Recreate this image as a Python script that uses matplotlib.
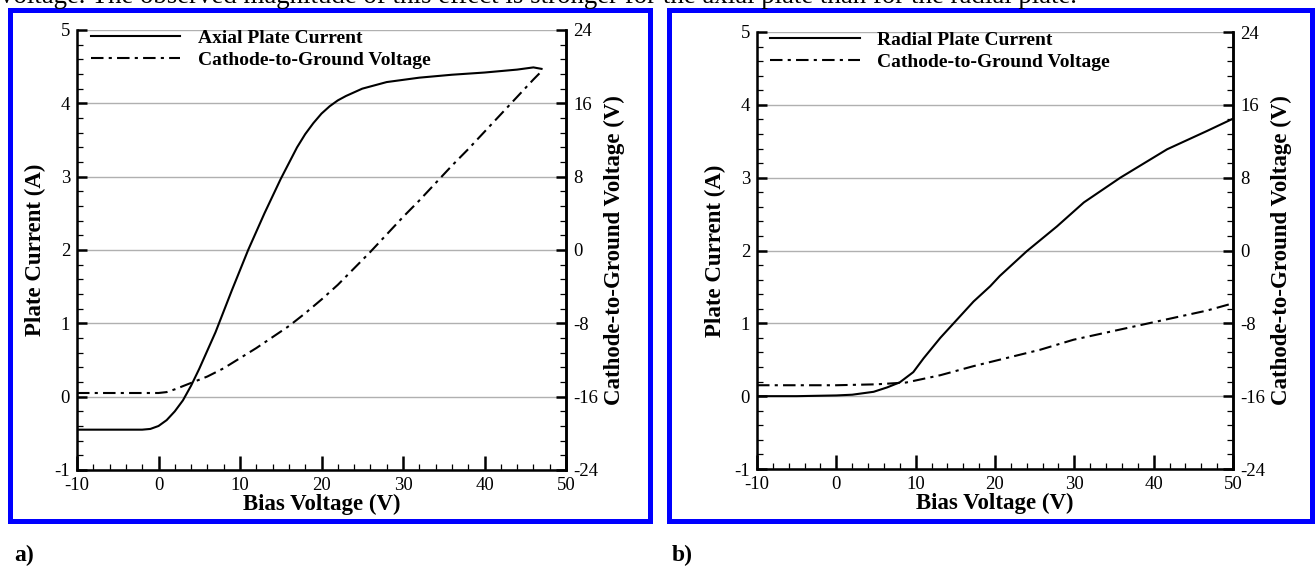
import matplotlib
matplotlib.use("Agg")
from matplotlib import pyplot as plt
from matplotlib.ticker import MultipleLocator
from matplotlib.patches import Rectangle

plt.rcParams['font.family'] = ['Liberation Serif', 'DejaVu Serif']
plt.rcParams['axes.unicode_minus'] = False

# --- panel a) axial plate ---
axial_bias = [-10, -5, -2, -1, 0, 1, 2, 3, 4, 5, 7, 9, 11, 13, 15, 17, 18,
              19, 20, 21, 22, 23, 25, 28, 32, 36, 40, 44, 46, 47]
axial_current = [-0.45, -0.45, -0.45, -0.44, -0.40, -0.32, -0.20, -0.05, 0.15,
                 0.38, 0.88, 1.45, 2.0, 2.5, 2.97, 3.4, 3.58, 3.73, 3.86,
                 3.96, 4.04, 4.1, 4.2, 4.29, 4.35, 4.39, 4.42, 4.46, 4.49,
                 4.47]
axial_vbias = [-10, -5, 0, 1, 2, 4, 6, 8, 10, 12, 14, 16, 18, 20, 22, 24, 26,
               28, 30, 32, 34, 36, 38, 40, 42, 44, 46, 47]
axial_cathode = [-15.6, -15.6, -15.6, -15.5, -15.2, -14.5, -13.8, -12.9,
                 -11.8, -10.7, -9.5, -8.3, -6.9, -5.4, -3.8, -2.0, -0.2, 1.7,
                 3.6, 5.4, 7.3, 9.2, 11.0, 12.9, 14.8, 16.7, 18.6, 19.5]

# --- panel b) radial plate ---
radial_bias = [-10, -5, 0, 2, 4.7, 6.4, 8, 9.7, 11, 13.1, 15.2, 17.3, 19.4,
               20.6, 24, 27.8, 31.2, 35.8, 41.7, 46.7, 50]
radial_current = [0.0, 0.0, 0.01, 0.02, 0.06, 0.12, 0.19, 0.33, 0.52, 0.80,
                  1.05, 1.30, 1.51, 1.65, 1.99, 2.33, 2.66, 3.0, 3.39, 3.64,
                  3.81]
radial_vbias = [-10, -5, 0, 5, 8.8, 13.1, 17.3, 21.5, 25.7, 29.9, 34.1, 38.3,
                42.5, 46.7, 50]
radial_cathode = [-14.8, -14.8, -14.8, -14.7, -14.5, -13.7, -12.7, -11.8,
                  -10.9, -9.8, -9.0, -8.2, -7.4, -6.6, -5.8]

caption = ("voltage. The observed magnitude of this effect is stronger for the "
           "axial plate than for the radial plate.")

W, H = 1315, 567
DASHDOT = (0, (6, 2.5, 1.5, 2.5))


def draw_panel(fig, rect, bias, current, vbias, cathode, label):
    ax = fig.add_axes(rect)
    ax.set_xlim(-10, 50)
    ax.set_ylim(-1, 5)
    ax.xaxis.set_major_locator(MultipleLocator(10))
    ax.xaxis.set_minor_locator(MultipleLocator(2))
    ax.yaxis.set_major_locator(MultipleLocator(1))
    ax.yaxis.set_minor_locator(MultipleLocator(0.2))
    ax.grid(axis='y', which='major', color='#b0b0b0', linewidth=1.0)
    ax.set_axisbelow(True)
    for side in ['left', 'bottom', 'right']:
        ax.spines[side].set_linewidth(1.8)
    ax.spines['top'].set_visible(False)
    ax.tick_params(which='major', direction='in', length=7, width=1.8,
                   labelsize=13.5, pad=5)
    ax.tick_params(axis='x', which='major', length=10, pad=5)
    ax.tick_params(which='minor', direction='in', length=4, width=0.9)

    l1, = ax.plot(bias, current, color='black', linewidth=1.5)

    ax2 = ax.twinx()
    ax2.set_ylim(-24, 24)
    ax2.yaxis.set_major_locator(MultipleLocator(8))
    ax2.yaxis.set_minor_locator(MultipleLocator(1.6))
    ax2.spines['top'].set_visible(False)
    ax2.spines['right'].set_linewidth(1.8)
    ax2.tick_params(which='major', direction='in', length=7, width=1.8,
                    labelsize=13.5, pad=5)
    ax2.tick_params(which='minor', direction='in', length=4, width=0.9)
    l2, = ax2.plot(vbias, cathode, color='black', linewidth=1.5,
                   linestyle=DASHDOT)

    bold = {'fontsize': 16.5, 'fontweight': 'bold'}
    ax.set_xlabel("Bias Voltage (V)", labelpad=0, **bold)
    ax.set_ylabel("Plate Current (A)", labelpad=6, **bold)
    ax2.set_ylabel("Cathode-to-Ground Voltage (V)", labelpad=4, **bold)

    ax2.legend([l1, l2], [label, "Cathode-to-Ground Voltage"],
               loc='upper left', bbox_to_anchor=(0.012, 1.02),
               frameon=False, handlelength=4.6, handletextpad=0.9,
               labelspacing=0.25, borderaxespad=0,
               prop={'size': 14, 'weight': 'bold'})
    return ax


fig = plt.figure(figsize=(W / 100, H / 100), dpi=100)

draw_panel(fig, [77 / W, 1 - 470 / H, 489 / W, 440 / H],
           axial_bias, axial_current, axial_vbias, axial_cathode,
           "Axial Plate Current")
draw_panel(fig, [757 / W, 1 - 469 / H, 476 / W, 437 / H],
           radial_bias, radial_current, radial_vbias, radial_cathode,
           "Radial Plate Current")

# blue frames around the two panels
for x0, x1 in [(10, 650), (669, 1312)]:
    fig.add_artist(Rectangle((x0 / W, 1 - 521 / H), (x1 - x0) / W, 511 / H,
                             transform=fig.transFigure, fill=False,
                             edgecolor='#0000ff', linewidth=3.6))

fig.text(0.0, 1 - 3 / H, caption, fontsize=19.4, va='baseline', ha='left')
fig.text(14 / W, 1 - 561 / H, "a)", fontsize=17, fontweight='bold',
         va='baseline')
fig.text(672 / W, 1 - 561 / H, "b)", fontsize=17, fontweight='bold',
         va='baseline')

fig.savefig("out.png", dpi=100)
